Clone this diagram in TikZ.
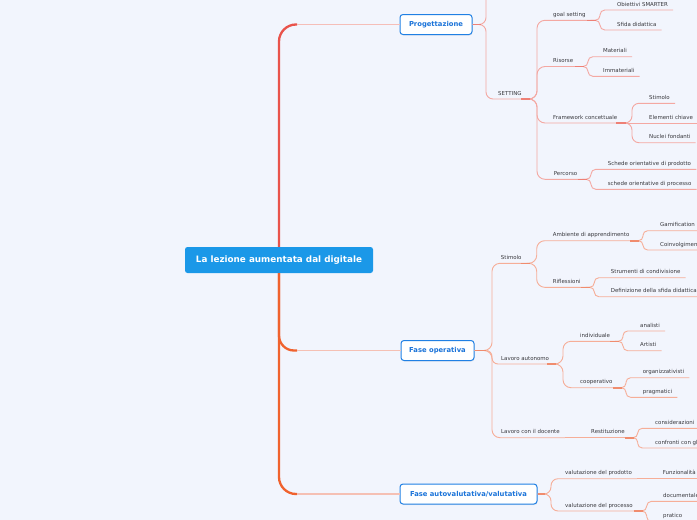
\documentclass[tikz,border=0pt]{standalone}
\usepackage{fontspec}
\setmainfont{DejaVu Sans}
\usetikzlibrary{calc,shadows}
\definecolor{bg}{RGB}{242,245,253}
\definecolor{cblue}{RGB}{27,152,232}
\definecolor{bborder}{RGB}{32,128,228}
\definecolor{btext}{RGB}{26,115,217}
\definecolor{txt}{RGB}{55,55,60}
\definecolor{lnR}{RGB}{244,168,162}
\definecolor{lnO}{RGB}{246,174,152}
\definecolor{hdR}{RGB}{238,128,118}
\definecolor{hdO}{RGB}{240,140,110}
\definecolor{trR}{RGB}{233,83,75}
\definecolor{trO}{RGB}{240,98,46}
\definecolor{brR}{RGB}{245,190,184}
\definecolor{brO}{RGB}{245,192,180}
\tikzset{
 central/.style={fill=cblue, text=white, font=\fontsize{8.8}{10}\selectfont\bfseries, rounded corners=2.5pt, minimum width=188pt, minimum height=26pt, inner sep=0pt},
 topic/.style={draw=bborder, line width=1pt, fill=white, text=btext, font=\fontsize{6.8}{8}\selectfont\bfseries, rounded corners=3pt, minimum height=20pt, inner sep=0pt, drop shadow={opacity=0.12, shadow xshift=0.6pt, shadow yshift=-1pt}},
 lbl/.style={font=\fontsize{5.45}{6.5}\selectfont, text=txt, inner xsep=5pt, inner ysep=2.2pt, text height=4pt, text depth=1.5pt, anchor=south west},
 lr/.style={draw=lnR, line width=0.9pt, rounded corners=#1},
 lo/.style={draw=lnO, line width=0.9pt, rounded corners=#1},
 hr/.style={draw=hdR, line width=1.6pt},
 ho/.style={draw=hdO, line width=1.6pt},
 trunkR/.style={draw=trR, line width=2.3pt, rounded corners=17pt},
 trunkO/.style={draw=trO, line width=2.3pt, rounded corners=17pt},
 branchR/.style={draw=brR, line width=1.5pt},
 branchO/.style={draw=brO, line width=1.5pt},
}
\begin{document}
\begin{tikzpicture}[x=1pt,y=-1pt]
\useasboundingbox (0,0) rectangle (697,520);
\fill[bg] (0,0) rectangle (697,520);
\clip (0,0) rectangle (697,520);

% main nodes
\node[central] (C) at (279,260) {La lezione aumentata dal digitale};
\node[topic, minimum width=72pt] (P) at (436,24.5) {Progettazione};
\node[topic, minimum width=73pt] (F) at (437.5,350.5) {Fase operativa};
\node[topic, minimum width=137pt] (A) at (468.5,494) {Fase autovalutativa/valutativa};

% trunk
\coordinate (tp) at (297,24.5);
\coordinate (tf) at (297,350.5);
\coordinate (ta) at (297,494);
\draw[trunkR] (C.north) |- (tp);
\draw[branchR] (tp) -- (P.west);
\draw[trunkO] (C.south) |- (ta);
\draw[trunkO, rounded corners=15pt] (C.south) |- (tf);
\draw[branchO] (tf) -- (F.west);
\draw[branchO] (ta) -- (A.west);

% ---------- Progettazione ----------
\node[lbl] (S) at (493,99) {SETTING};
\node[lbl] (GS) at (548,20.3) {goal setting};
\node[lbl] (OS) at (612,10) {Obiettivi SMARTER};
\node[lbl] (SD) at (612,30) {Sfida didattica};
\node[lbl] (RI) at (548,66.5) {Risorse};
\node[lbl] (MA) at (598,56.7) {Materiali};
\node[lbl] (IM) at (598,76.3) {Immateriali};
\node[lbl] (FC) at (548,123) {Framework concettuale};
\node[lbl] (ST1) at (644,103.3) {Stimolo};
\node[lbl] (EC) at (644,123) {Elementi chiave};
\node[lbl] (NF) at (644,142.7) {Nuclei fondanti};
\node[lbl] (PE) at (548.7,179.3) {Percorso};
\node[lbl] (SP) at (602.7,169.3) {Schede orientative di prodotto};
\node[lbl] (SPR) at (602.7,189.3) {schede orientative di processo};

\coordinate (jP) at (486,24.5);
\coordinate (up) at (492,-40);
\coordinate (jS) at (537,99);
\coordinate (jGS) at (600,20.3);
\coordinate (jRI) at (588,66.5);
\coordinate (jFC) at (632,123);
\coordinate (jPE) at (591,179.3);

\draw[lr=7pt] (P.east) -- (jP) |- (up);
\draw[lr=7pt] (P.east) -- (jP) |- (S.south east);
\draw[lr=8pt] (S.south east) -- (jS) |- (GS.south east);
\draw[lr=8pt] (S.south east) -- (jS) |- (RI.south east);
\draw[lr=8pt] (S.south east) -- (jS) |- (FC.south east);
\draw[lr=8pt] (S.south east) -- (jS) |- (PE.south east);
\draw[lr=4.8pt] (GS.south east) -- (jGS) |- (OS.south east);
\draw[lr=4.8pt] (GS.south east) -- (jGS) |- (SD.south east);
\draw[lr=4.8pt] (RI.south east) -- (jRI) |- (MA.south east);
\draw[lr=4.8pt] (RI.south east) -- (jRI) |- (IM.south east);
\draw[lr=7pt] (FC.south east) -- (jFC) |- (ST1.south east);
\draw[lr=0pt] (FC.south east) -- (EC.south east);
\draw[lr=7pt] (FC.south east) -- (jFC) |- (NF.south east);
\draw[lr=4.8pt] (PE.south east) -- (jPE) |- (SP.south east);
\draw[lr=4.8pt] (PE.south east) -- (jPE) |- (SPR.south east);

\draw[hr] (P.east) -- ($(jP)+(-5,0)$);
\draw[hr] ($(jS)+(-16,0)$) -- ($(jS)+(-7,0)$);
\draw[hr] ($(jGS)+(-13,0)$) -- ($(jGS)+(-4,0)$);
\draw[hr] ($(jRI)+(-13,0)$) -- ($(jRI)+(-4,0)$);
\draw[hr] ($(jFC)+(-16,0)$) -- ($(jFC)+(-6,0)$);
\draw[hr] ($(jPE)+(-13,0)$) -- ($(jPE)+(-4,0)$);

% ---------- Fase operativa ----------
\node[lbl] (ST2) at (495.7,263.3) {Stimolo};
\node[lbl] (AA) at (547.7,240.7) {Ambiente di apprendimento};
\node[lbl] (GA) at (655,230.7) {Gamification};
\node[lbl] (CO) at (655,250) {Coinvolgimento};
\node[lbl] (RF) at (547.7,287.3) {Riflessioni};
\node[lbl] (SC) at (605.7,277.7) {Strumenti di condivisione};
\node[lbl] (DS) at (605.7,296.7) {Definizione della sfida didattica};
\node[lbl] (LA) at (496,364) {Lavoro autonomo};
\node[lbl] (IN) at (575,341.3) {individuale};
\node[lbl] (AN) at (635,331) {analisti};
\node[lbl] (AR) at (635,350.7) {Artisti};
\node[lbl] (CP) at (575,387.7) {cooperativo};
\node[lbl] (OR) at (637.7,377.7) {organizzativisti};
\node[lbl] (PR) at (637.7,397.3) {pragmatici};
\node[lbl] (LD) at (496,437.7) {Lavoro con il docente};
\node[lbl] (RE) at (586,437.7) {Restituzione};
\node[lbl] (CN) at (650,428.3) {considerazioni};
\node[lbl] (CF) at (650,448) {confronti con gli};

\coordinate (jF) at (492,350.5);
\coordinate (jST) at (536.7,263.3);
\coordinate (jAA) at (643,240.7);
\coordinate (jRF) at (594.3,287.3);
\coordinate (jLA) at (563,364);
\coordinate (jIN) at (623,341.3);
\coordinate (jCP) at (626,387.7);
\coordinate (jRE) at (637.7,437.7);

\draw[lo=8pt] (F.east) -- (jF) |- (ST2.south east);
\draw[lo=6pt] (F.east) -- (jF) |- (LA.south east);
\draw[lo=8pt] (F.east) -- (jF) |- (LD.south east);
\draw[lo=8pt] (ST2.south east) -- (jST) |- (AA.south east);
\draw[lo=8pt] (ST2.south east) -- (jST) |- (RF.south east);
\draw[lo=4.6pt] (AA.south east) -- (jAA) |- (GA.south east);
\draw[lo=4.6pt] (AA.south east) -- (jAA) |- (CO.south east);
\draw[lo=4.6pt] (RF.south east) -- (jRF) |- (SC.south east);
\draw[lo=4.6pt] (RF.south east) -- (jRF) |- (DS.south east);
\draw[lo=8pt] (LA.south east) -- (jLA) |- (IN.south east);
\draw[lo=8pt] (LA.south east) -- (jLA) |- (CP.south east);
\draw[lo=4.6pt] (IN.south east) -- (jIN) |- (AN.south east);
\draw[lo=4.6pt] (IN.south east) -- (jIN) |- (AR.south east);
\draw[lo=4.6pt] (CP.south east) -- (jCP) |- (OR.south east);
\draw[lo=4.6pt] (CP.south east) -- (jCP) |- (PR.south east);
\draw[lo=0pt] (LD.south east) -- (RE.south east);
\draw[lo=4.6pt] (RE.south east) -- (jRE) |- (CN.south east);
\draw[lo=4.6pt] (RE.south east) -- (jRE) |- (CF.south east);

\draw[ho] (F.east) -- ($(jF)+(-6,0)$);
\draw[ho] ($(jST)+(-16,0)$) -- ($(jST)+(-7,0)$);
\draw[ho] ($(jAA)+(-13,0)$) -- ($(jAA)+(-4,0)$);
\draw[ho] ($(jRF)+(-13,0)$) -- ($(jRF)+(-4,0)$);
\draw[ho] ($(jLA)+(-16,0)$) -- ($(jLA)+(-7,0)$);
\draw[ho] ($(jIN)+(-13,0)$) -- ($(jIN)+(-4,0)$);
\draw[ho] ($(jCP)+(-13,0)$) -- ($(jCP)+(-4,0)$);
\draw[ho] ($(jRE)+(-13,0)$) -- ($(jRE)+(-4,0)$);

% ---------- Fase autovalutativa/valutativa ----------
\node[lbl] (VP) at (560,478.7) {valutazione del prodotto};
\node[lbl] (FU) at (657.7,478.7) {Funzionalità};
\node[lbl] (VR) at (560,511) {valutazione del processo};
\node[lbl] (DO) at (658,501.3) {documentale};
\node[lbl] (PA) at (658,521.5) {pratico};

\coordinate (jA) at (551,494);
\coordinate (jVR) at (646.7,511);

\draw[lo=7pt] (A.east) -- (jA) |- (VP.south east);
\draw[lo=7pt] (A.east) -- (jA) |- (VR.south east);
\draw[lo=0pt] (VP.south east) -- (FU.south east);
\draw[lo=4.8pt] (VR.south east) -- (jVR) |- (DO.south east);
\draw[lo=4.8pt] (VR.south east) -- (jVR) |- (PA.south east);

\draw[ho] (A.east) -- ($(jA)+(-6,0)$);
\draw[ho] ($(jVR)+(-13,0)$) -- ($(jVR)+(-4,0)$);
\end{tikzpicture}
\end{document}
